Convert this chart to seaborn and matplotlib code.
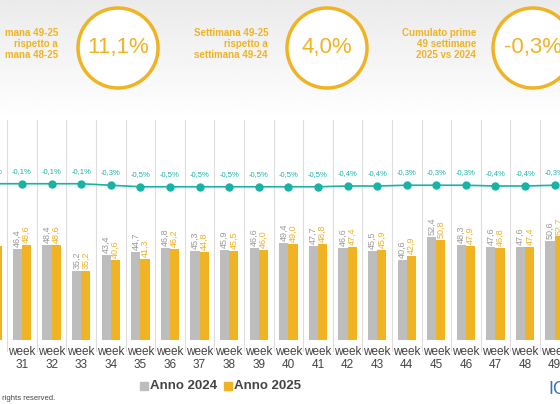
import matplotlib
matplotlib.use("Agg")
import matplotlib.pyplot as plt
import seaborn as sns
import pandas as pd
import numpy as np
from matplotlib.patches import Ellipse

weeks = list(range(30, 50))
anno2024 = [47.0, 46.4, 48.4, 35.2, 43.4, 44.7, 46.8, 45.3, 45.9, 46.6, 49.4, 47.7, 46.6, 45.5, 40.6, 52.4, 48.3, 47.6, 47.6, 50.6]
anno2025 = [47.8, 48.6, 48.6, 35.2, 40.6, 41.3, 46.2, 44.8, 45.5, 46.0, 49.0, 48.8, 47.4, 45.9, 42.9, 50.8, 47.9, 46.8, 47.4, 52.7]
cumul = [-0.1, -0.1, -0.1, -0.1, -0.3, -0.5, -0.5, -0.5, -0.5, -0.5, -0.5, -0.5, -0.4, -0.4, -0.3, -0.3, -0.3, -0.4, -0.4, -0.3]
labels = [f"week\n{w}" for w in weeks]

df = pd.DataFrame({"week": labels * 2, "val": anno2024 + anno2025,
                   "serie": ["Anno 2024"] * 20 + ["Anno 2025"] * 20})

plt.rcParams["font.family"] = ["Liberation Sans", "DejaVu Sans"]
GRAY = "#bdbdbd"; GOLD = "#f0b323"; TEAL = "#19b3a6"
fig = plt.figure(figsize=(5.6, 4.04), dpi=100)
bg = fig.add_axes([0, 0.7, 1, 0.3], zorder=-5)
bg.imshow(np.linspace(0.92, 1.0, 50)[:, None], cmap="gray", vmin=0, vmax=1, aspect="auto", extent=[0, 1, 0, 1])
bg.axis("off")

ax = fig.add_axes([0, 64/404, 1, 220/404])
sns.barplot(data=df, x="week", y="val", hue="serie", palette=[GRAY, GOLD], saturation=1,
            width=0.62, gap=0.0, ax=ax, legend=False)
ax.set_xlim(0.257, 19.18)
ax.set_ylim(0, 112)
ax.set_xlabel(""); ax.set_ylabel("")
ax.set_yticks([])
for s in ax.spines.values():
    s.set_visible(False)
ax.tick_params(axis="x", length=0, labelsize=8.5, colors="#444444", pad=4)
for i in range(21):
    ax.axvline(i - 0.5, ymin=-0.05, ymax=1, color="#dddddd", lw=0.8, zorder=0, clip_on=False)
ax.axhline(0, color="#d0d0d0", lw=0.8)
for i in range(20):
    ax.text(i - 0.155, anno2024[i] + 1, f"{anno2024[i]:.1f}".replace(".", ","), rotation=90,
            ha="center", va="bottom", fontsize=6.5, color="#999999")
    ax.text(i + 0.155, anno2025[i] + 1, f"{anno2025[i]:.1f}".replace(".", ","), rotation=90,
            ha="center", va="bottom", fontsize=6.5, color=GOLD)

ax2 = ax.twinx()
ax2.set_ylim(-20.7, 8.3)
ax2.plot(range(20), cumul, color=TEAL, lw=1.2, marker="o", ms=5)
for i, c in enumerate(cumul):
    ax2.text(i, c + 1.2, f"{c:.1f}%".replace(".", ","), ha="center", va="bottom", fontsize=5.5, color=TEAL)
ax2.set_yticks([]); ax2.axis("off")

fig.patches.append(plt.Rectangle((140/560, 1 - 390/404), 8/560, 8/404, transform=fig.transFigure, color=GRAY))
fig.text(150/560, 1 - 386/404, "Anno 2024", fontsize=9.5, color="#444444", va="center", fontweight="bold")
fig.patches.append(plt.Rectangle((224/560, 1 - 390/404), 8/560, 8/404, transform=fig.transFigure, color=GOLD))
fig.text(234/560, 1 - 386/404, "Anno 2025", fontsize=9.5, color="#444444", va="center", fontweight="bold")
fig.text(0, 1 - 399/404, " rights reserved.", fontsize=5.5, color="#444444", va="center")
fig.text(548/560, 1 - 390/404, "IC", fontsize=13, color="#3b6fb6", va="center")

kpis = [(118, "11,1%", "mana 49-25\nrispetto a\nmana 48-25", 58),
        (327, "4,0%", "Settimana 49-25\nrispetto a\nsettimana 49-24", 268),
        (533, "-0,3%", "Cumulato prime\n49 settimane\n2025 vs 2024", 476)]
for cx, val, txt, tx in kpis:
    fig.patches.append(Ellipse((cx/560, 1 - 48/404), 80/560, 80/404, transform=fig.transFigure,
                               facecolor="white", edgecolor=GOLD, lw=2.5))
    fig.text(cx/560, 1 - 48/404, val, fontsize=16, color=GOLD, ha="center", va="center")
    fig.text(tx/560, 1 - 44/404, txt, fontsize=7, color=GOLD, ha="right", va="center",
             fontweight="bold", linespacing=1.1)

fig.savefig("out.png", dpi=100)
